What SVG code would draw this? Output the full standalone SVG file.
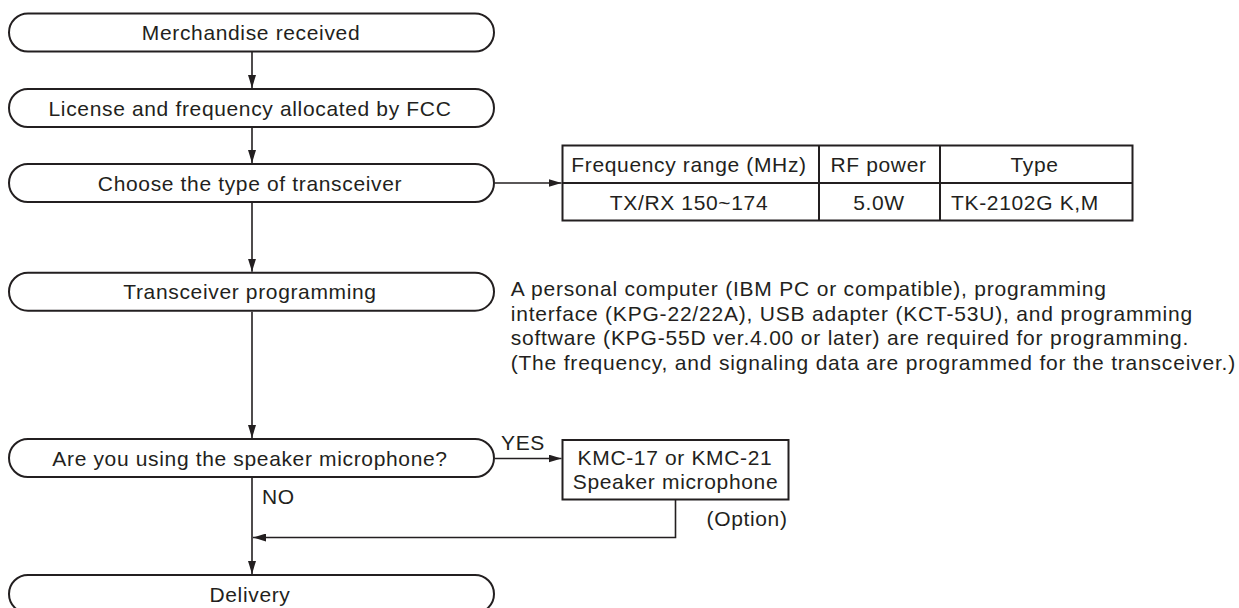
<svg xmlns="http://www.w3.org/2000/svg" width="1239" height="608" viewBox="0 0 1239 608">
<style>
.box{fill:#fff;stroke:#231f20;stroke-width:2}
.tbl{fill:none;stroke:#231f20;stroke-width:2}
.ln{fill:none;stroke:#231f20;stroke-width:1.6}
text{font-family:"Liberation Sans",Arial,sans-serif;font-size:21px;fill:#231f20;letter-spacing:0.65px}
.c{text-anchor:middle}
.note text{letter-spacing:0.8px}
</style>
<defs>
<marker id="arr" markerUnits="userSpaceOnUse" markerWidth="13" markerHeight="8" refX="13" refY="4" orient="auto">
<path d="M0,0 L13,4 L0,8 z" fill="#231f20"/>
</marker>
</defs>
<rect width="1239" height="608" fill="#fff"/>
<g id="connectors">
<line class="ln" x1="252" y1="52" x2="252" y2="88" marker-end="url(#arr)"/>
<line class="ln" x1="252" y1="128" x2="252" y2="163" marker-end="url(#arr)"/>
<line class="ln" x1="252" y1="202" x2="252" y2="271.7" marker-end="url(#arr)"/>
<line class="ln" x1="252" y1="311.7" x2="252" y2="438" marker-end="url(#arr)"/>
<line class="ln" x1="252" y1="478" x2="252" y2="574" marker-end="url(#arr)"/>
<line class="ln" x1="495" y1="183" x2="561.5" y2="183" marker-end="url(#arr)"/>
<line class="ln" x1="495" y1="458.5" x2="561.5" y2="458.5" marker-end="url(#arr)"/>
<path class="ln" d="M675.5,500 V537.5 H253" marker-end="url(#arr)"/>
<text x="501" y="449.5" letter-spacing="0">YES</text>
<text x="262" y="504" letter-spacing="0">NO</text>
</g>
<g id="n1">
<rect class="box" x="9" y="13.5" width="485" height="38" rx="19" ry="19"/>
<text class="c" x="251" y="40">Merchandise received</text>
</g>
<g id="n2">
<rect class="box" x="9" y="89" width="485" height="38" rx="19" ry="19"/>
<text class="c" x="250" y="115.5">License and frequency allocated by FCC</text>
</g>
<g id="n3">
<rect class="box" x="9" y="164" width="485" height="38" rx="19" ry="19"/>
<text class="c" x="250" y="190.5">Choose the type of transceiver</text>
</g>
<g id="n4">
<rect class="box" x="9" y="272.7" width="485" height="38" rx="19" ry="19"/>
<text class="c" x="250" y="299.2">Transceiver programming</text>
</g>
<g id="n5">
<rect class="box" x="9" y="439" width="485" height="38" rx="19" ry="19"/>
<text class="c" x="250" y="465.5">Are you using the speaker microphone?</text>
</g>
<g id="n6">
<rect class="box" x="9" y="575" width="485" height="38" rx="19" ry="19"/>
<text class="c" x="250" y="601.5">Delivery</text>
</g>
<g id="table">
<rect class="tbl" x="562.5" y="145.5" width="570" height="75"/>
<line class="tbl" x1="562.5" y1="183" x2="1132.5" y2="183"/>
<line class="tbl" x1="819" y1="145.5" x2="819" y2="220.5"/>
<line class="tbl" x1="940" y1="145.5" x2="940" y2="220.5"/>
<text class="c" x="689" y="171.5">Frequency range (MHz)</text>
<text class="c" x="878.5" y="171.5">RF power</text>
<text class="c" x="1034.5" y="171.5">Type</text>
<text class="c" x="689" y="209.5">TX/RX 150~174</text>
<text class="c" x="879" y="209.5">5.0W</text>
<text class="c" x="1025" y="209.5">TK-2102G K,M</text>
</g>
<g id="note" class="note">
<text x="510.7" y="296">A personal computer (IBM PC or compatible), programming</text>
<text x="510.7" y="320.5">interface (KPG-22/22A), USB adapter (KCT-53U), and programming</text>
<text x="510.7" y="345">software (KPG-55D ver.4.00 or later) are required for programming.</text>
<text x="510.7" y="369.5">(The frequency, and signaling data are programmed for the transceiver.)</text>
</g>
<g id="kmc">
<rect class="tbl" x="562.5" y="440" width="226" height="59.5"/>
<text class="c" x="675" y="464.5">KMC-17 or KMC-21</text>
<text class="c" x="675.5" y="488.5">Speaker microphone</text>
<text x="706.5" y="525.5">(Option)</text>
</g>
</svg>
